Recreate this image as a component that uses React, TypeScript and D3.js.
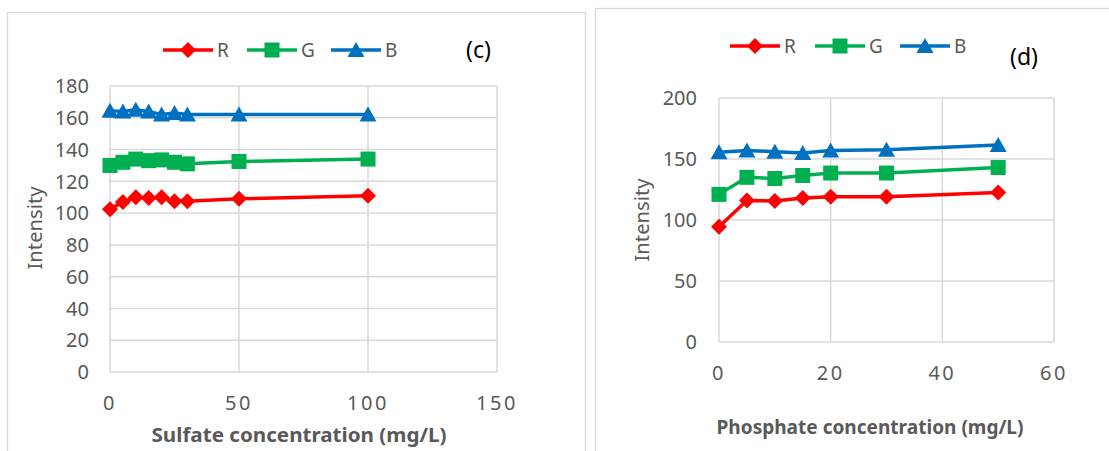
import React from 'react';
import * as d3 from 'd3';

// ---- Data: panel (c) Sulfate ----
const sulfateX = [0, 5, 10, 15, 20, 25, 30, 50, 100];
const sulfateR = [102.5, 107, 110, 109.5, 110, 107.5, 107.5, 109, 111];
const sulfateG = [130, 132, 134, 133, 133.5, 132, 131, 132.5, 134];
const sulfateB = [164.5, 164, 165, 164, 162, 163, 162, 162, 162];
const sulfateXTicks = [0, 50, 100, 150];
const sulfateYTicks = [0, 20, 40, 60, 80, 100, 120, 140, 160, 180];

// ---- Data: panel (d) Phosphate ----
const phosphateX = [0, 5, 10, 15, 20, 30, 50];
const phosphateR = [94.5, 116, 115.5, 118, 119, 119, 122.5];
const phosphateG = [121, 135, 134, 136.5, 138.5, 138.5, 143];
const phosphateB = [155.5, 157, 156, 155, 157, 157.5, 161.5];
const phosphateXTicks = [0, 20, 40, 60];
const phosphateYTicks = [0, 50, 100, 150, 200];

const seriesNames = ['R', 'G', 'B'];
const COLORS: Record<string, string> = { R: '#FF0000', G: '#00B050', B: '#0070C0' };
const GRID = '#D9D9D9';
const TEXT = '#595959';
const FONT = "'Noto Sans', 'Open Sans', sans-serif";

function Marker({ kind, x, y, color }: { kind: string; x: number; y: number; color: string }) {
  if (kind === 'R') {
    const s = 8;
    return <path d={`M${x},${y - s}L${x + s},${y}L${x},${y + s}L${x - s},${y}Z`} fill={color} />;
  }
  if (kind === 'G') {
    const s = 7.5;
    return <rect x={x - s} y={y - s} width={2 * s} height={2 * s} fill={color} />;
  }
  const w = 8.5, h = 8;
  return <path d={`M${x},${y - h}L${x + w},${y + h - 1}L${x - w},${y + h - 1}Z`} fill={color} />;
}

type PanelProps = {
  xs: number[];
  series: number[][];
  xTicks: number[];
  yTicks: number[];
  box: { x0: number; x1: number; y0: number; y1: number };
  legend: { x: number; y: number; gap: number };
  tag: { text: string; x: number; y: number };
  xTitle: { text: string; x: number; y: number; size: number; len: number };
  yTitle: { x: number; y: number };
  xTickY: number;
  yTickX: number;
  frame: { x: number; y: number; w: number; h: number };
};

function Panel(p: PanelProps) {
  const xScale = d3.scaleLinear().domain([p.xTicks[0], p.xTicks[p.xTicks.length - 1]]).range([p.box.x0, p.box.x1]);
  const yScale = d3.scaleLinear().domain([p.yTicks[0], p.yTicks[p.yTicks.length - 1]]).range([p.box.y1, p.box.y0]);
  const line = d3.line<[number, number]>().x(d => xScale(d[0])).y(d => yScale(d[1]));
  return (
    <g>
      <rect x={p.frame.x} y={p.frame.y} width={p.frame.w} height={p.frame.h} fill="#fff" stroke={GRID} strokeWidth={1.3} />
      {/* grid */}
      {p.yTicks.map(t => (
        <line key={'gy' + t} x1={p.box.x0} x2={p.box.x1} y1={yScale(t)} y2={yScale(t)} stroke={GRID} strokeWidth={1.5} />
      ))}
      {p.xTicks.map(t => (
        <line key={'gx' + t} x1={xScale(t)} x2={xScale(t)} y1={p.box.y0} y2={p.box.y1} stroke={GRID} strokeWidth={1.5} />
      ))}
      {/* tick labels */}
      {p.yTicks.map(t => (
        <text key={'ty' + t} x={p.yTickX} y={yScale(t)} dy="0.36em" textAnchor="end" fontSize={20} fill={TEXT} fontFamily={FONT}>{t}</text>
      ))}
      {p.xTicks.map(t => (
        <text key={'tx' + t} x={xScale(t)} y={p.xTickY} dy="0.36em" textAnchor="middle" fontSize={20} fill={TEXT} fontFamily={FONT} letterSpacing={2.5}>{t}</text>
      ))}
      {/* series */}
      {p.series.map((vals, i) => {
        const name = seriesNames[i];
        const pts: [number, number][] = p.xs.map((x, j) => [x, vals[j]]);
        return (
          <g key={name}>
            <path d={line(pts) || ''} fill="none" stroke={COLORS[name]} strokeWidth={3.5} strokeLinejoin="round" />
            {pts.map((d, j) => (
              <Marker key={j} kind={name} x={xScale(d[0])} y={yScale(d[1])} color={COLORS[name]} />
            ))}
          </g>
        );
      })}
      {/* legend */}
      {seriesNames.map((name, i) => {
        const lx = p.legend.x + i * p.legend.gap;
        return (
          <g key={'lg' + name}>
            <line x1={lx} x2={lx + 50} y1={p.legend.y} y2={p.legend.y} stroke={COLORS[name]} strokeWidth={3.5} />
            <Marker kind={name} x={lx + 25} y={p.legend.y} color={COLORS[name]} />
            <text x={lx + 54} y={p.legend.y} dy="0.36em" fontSize={19} fill={TEXT} fontFamily={FONT}>{name}</text>
          </g>
        );
      })}
      <text x={p.tag.x} y={p.tag.y} dy="0.36em" fontSize={23} fill="#000" fontFamily={FONT}>{p.tag.text}</text>
      <text x={p.xTitle.x} y={p.xTitle.y} dy="0.36em" textAnchor="middle" fontSize={p.xTitle.size} fontWeight="bold" fill={TEXT} fontFamily={FONT} textLength={p.xTitle.len} lengthAdjust="spacingAndGlyphs">{p.xTitle.text}</text>
      <text transform={`translate(${p.yTitle.x},${p.yTitle.y}) rotate(-90)`} dy="0.36em" textAnchor="middle" fontSize={19} fill={TEXT} fontFamily={FONT} textLength={83} lengthAdjust="spacingAndGlyphs">Intensity</text>
    </g>
  );
}

export default function App() {
  return (
    <svg width={1109} height={451} style={{ position: 'absolute', left: 0, top: 0, background: '#fff' }}>
      <rect width={1109} height={451} fill="#fff" />
      <Panel
        xs={sulfateX}
        series={[sulfateR, sulfateG, sulfateB]}
        xTicks={sulfateXTicks}
        yTicks={sulfateYTicks}
        box={{ x0: 110, x1: 497, y0: 86, y1: 372 }}
        legend={{ x: 163, y: 50, gap: 84 }}
        tag={{ text: '(c)', x: 466, y: 50 }}
        xTitle={{ text: 'Sulfate concentration (mg/L)', x: 299, y: 435, size: 20, len: 295 }}
        yTitle={{ x: 35, y: 228 }}
        xTickY={403}
        yTickX={89}
        frame={{ x: 7.5, y: 12.5, w: 578, h: 460 }}
      />
      <Panel
        xs={phosphateX}
        series={[phosphateR, phosphateG, phosphateB]}
        xTicks={phosphateXTicks}
        yTicks={phosphateYTicks}
        box={{ x0: 719, x1: 1054, y0: 98, y1: 342 }}
        legend={{ x: 730, y: 46, gap: 85 }}
        tag={{ text: '(d)', x: 1010, y: 57 }}
        xTitle={{ text: 'Phosphate concentration (mg/L)', x: 870, y: 427, size: 19, len: 307 }}
        yTitle={{ x: 642, y: 220 }}
        xTickY={373}
        yTickX={697}
        frame={{ x: 595.5, y: 8.5, w: 540, h: 460 }}
      />
    </svg>
  );
}
